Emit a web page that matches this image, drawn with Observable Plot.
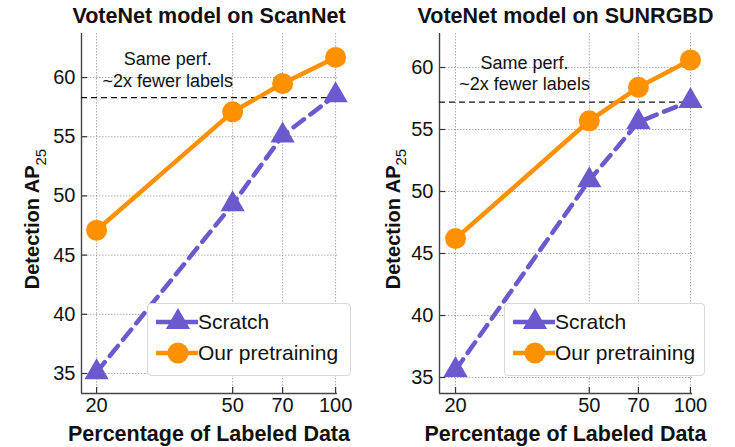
<!DOCTYPE html>
<html>
<head>
<meta charset="utf-8">
<script src="https://cdn.jsdelivr.net/npm/d3@7"></script>
<script src="https://cdn.jsdelivr.net/npm/@observablehq/plot@0.6"></script>
<style>
  html, body { margin: 0; padding: 0; background: #fff; }
  body { font-family: "Liberation Sans", Arial, Helvetica, sans-serif; }
  #root { position: relative; width: 735px; height: 447px; overflow: hidden; }
  .panel { position: absolute; top: 0; height: 447px; }
  .title { position: absolute; top: 1px; height: 30px; line-height: 30px; font-weight: bold; font-size: 21.5px; text-align: center; white-space: nowrap; color: #111; }
  .panel svg.plot { position: absolute; top: 30px; left: 0; }
  .legend { position: absolute; background: #fff; border: 1px solid #d8d8d8; border-radius: 4px; box-sizing: border-box; }
  .legend .row { position: absolute; left: 0; height: 30px; display: flex; align-items: center; }
  .legend .row span { font-size: 21px; color: #111; margin-left: 0px; }
</style>
</head>
<body>
<div id="root"></div>
<script>
// ---- data ----
const labeledPct = [20, 50, 70, 100];
const xTickValues = [20, 50, 70, 100];
const yTickValues = [35, 40, 45, 50, 55, 60];
const seriesNames = ["Scratch", "Our pretraining"];
const titles = ["VoteNet model on ScanNet", "VoteNet model on SUNRGBD"];
const scannetScratch = [35.1, 49.3, 55.1, 58.5];
const scannetOurs = [47.1, 57.1, 59.5, 61.7];
const sunrgbdScratch = [35.6, 50.9, 55.6, 57.3];
const sunrgbdOurs = [46.2, 55.7, 58.4, 60.6];
const samePerfLevel = [58.3, 57.2];
const annotationLines = ["Same perf.", "~2x fewer labels"];
const annotationPos = [{x: 32.3, y: 60.7}, {x: 32.1, y: 59.6}];

// ---- styles ----
const PURPLE = "#6A5ACD";
const ORANGE = "#FF9100";
const FONT = "'Liberation Sans', Arial, Helvetica, sans-serif";

const panels = [
  {left: 0, width: 367, marginLeft: 81, marginRight: 30, xDomain: [18.07, 101.3], yDomain: [33.31, 63.72],
   scratch: scannetScratch, ours: scannetOurs, same: samePerfLevel[0], ann: annotationPos[0], title: titles[0],
   ylabelX: 32, legend: {left: 147, top: 303, width: 204, height: 73, lineX: 8, markX: 30}},
  {left: 367, width: 368, marginLeft: 72, marginRight: 43, xDomain: [17.92, 101.4], yDomain: [33.71, 62.74],
   scratch: sunrgbdScratch, ours: sunrgbdOurs, same: samePerfLevel[1], ann: annotationPos[1], title: titles[1],
   ylabelX: 25.5, legend: {left: 137, top: 303, width: 201, height: 73, lineX: 8, markX: 30}}
];

const root = document.getElementById("root");
const H = 417, MT = 3, MB = 54;

panels.forEach((p, i) => {
  const div = document.createElement("div");
  div.className = "panel";
  div.style.left = p.left + "px";
  div.style.width = p.width + "px";
  root.appendChild(div);

  const scratchData = labeledPct.map((x, k) => ({x, y: p.scratch[k]}));
  const oursData = labeledPct.map((x, k) => ({x, y: p.ours[k]}));
  const frameW = p.width - p.marginLeft - p.marginRight;
  const frameH = H - MT - MB;

  const plot = Plot.plot({
    width: p.width,
    height: H,
    marginLeft: p.marginLeft,
    marginRight: p.marginRight,
    marginTop: MT,
    marginBottom: MB,
    style: {fontFamily: FONT, background: "transparent", color: "#111", overflow: "visible"},
    x: {type: "log", domain: p.xDomain, axis: null},
    y: {domain: p.yDomain, axis: null},
    marks: [
      Plot.gridX(xTickValues, {stroke: "#888", strokeOpacity: 0.7, strokeDasharray: "1.5,1.5"}),
      Plot.gridY(yTickValues, {stroke: "#888", strokeOpacity: 0.7, strokeDasharray: "1.5,1.5"}),
      // inward tick marks
      Plot.ruleX(xTickValues, {stroke: "#333", strokeWidth: 1.2, insetTop: frameH - 6}),
      Plot.ruleY(yTickValues, {stroke: "#333", strokeWidth: 1.2, insetRight: frameW - 6}),
      // axis lines
      Plot.ruleX([p.xDomain[0]], {stroke: "#444", strokeWidth: 1.4}),
      Plot.ruleY([p.yDomain[0]], {stroke: "#444", strokeWidth: 1.4}),
      // tick labels
      Plot.text(xTickValues, {x: d => d, text: d => String(d), frameAnchor: "bottom", dy: 18, fontSize: 20, fill: "#111"}),
      Plot.text(yTickValues, {y: d => d, text: d => String(d), frameAnchor: "left", textAnchor: "end", dx: -6, fontSize: 20, fill: "#111"}),
      // same performance reference
      Plot.ruleY([p.same], {stroke: "#111", strokeWidth: 1.3, strokeDasharray: "6,4"}),
      Plot.text([annotationLines.join("\n")], {x: () => p.ann.x, y: () => p.ann.y, fontSize: 18, fill: "#111", lineHeight: 1.22, textAnchor: "middle"}),
      // series
      Plot.line(scratchData, {x: "x", y: "y", stroke: PURPLE, strokeWidth: 4.5, strokeDasharray: "13,8"}),
      Plot.dot(scratchData, {x: "x", y: "y", symbol: "triangle", r: 9, fill: PURPLE}),
      Plot.line(oursData, {x: "x", y: "y", stroke: ORANGE, strokeWidth: 4.5}),
      Plot.dot(oursData, {x: "x", y: "y", r: 10.5, fill: ORANGE})
    ]
  });
  plot.classList.add("plot");
  div.appendChild(plot);

  const svg = d3.select(plot);
  const cx = (p.marginLeft + (p.width - p.marginRight)) / 2;
  // y label with subscript
  const yl = svg.append("text")
    .attr("transform", `translate(${p.ylabelX},${(MT + H - MB) / 2 + 6}) rotate(-90)`)
    .attr("text-anchor", "middle")
    .attr("dy", "0.35em")
    .attr("font-family", FONT)
    .attr("font-weight", "bold")
    .attr("font-size", 20)
    .attr("fill", "#111");
  yl.append("tspan").text("Detection AP");
  yl.append("tspan").attr("font-size", 15).attr("font-weight", "normal").attr("dy", "0.45em").text("25");
  // x label
  svg.append("text")
    .attr("x", cx).attr("y", 403)
    .attr("text-anchor", "middle")
    .attr("dy", "0.35em")
    .attr("font-family", FONT)
    .attr("font-weight", "bold")
    .attr("font-size", 21.5)
    .attr("fill", "#111")
    .text("Percentage of Labeled Data");

  // title
  const t = document.createElement("div");
  t.className = "title";
  t.style.left = "0px";
  t.style.width = (2 * cx) + "px";
  t.textContent = p.title;
  div.appendChild(t);

  // legend
  const lg = document.createElement("div");
  lg.className = "legend";
  Object.assign(lg.style, {left: p.legend.left + "px", top: p.legend.top + "px", width: p.legend.width + "px", height: p.legend.height + "px"});
  const mk = (name, k) => {
    const row = document.createElement("div");
    row.className = "row";
    row.style.top = (k === 0 ? 3 : 34) + "px";
    const ns = "http://www.w3.org/2000/svg";
    const s = document.createElementNS(ns, "svg");
    s.setAttribute("width", 50); s.setAttribute("height", 30);
    const ln = document.createElementNS(ns, "line");
    ln.setAttribute("x1", p.legend.lineX); ln.setAttribute("x2", p.legend.lineX + 42);
    ln.setAttribute("y1", 15); ln.setAttribute("y2", 15);
    ln.setAttribute("stroke", k === 0 ? PURPLE : ORANGE); ln.setAttribute("stroke-width", 4.5);
    s.appendChild(ln);
    const m = document.createElementNS(ns, "path");
    m.setAttribute("d", d3.symbol(k === 0 ? d3.symbolTriangle : d3.symbolCircle, Math.PI * (k === 0 ? 81 : 110))());
    m.setAttribute("transform", `translate(${p.legend.markX},15)`);
    m.setAttribute("fill", k === 0 ? PURPLE : ORANGE);
    s.appendChild(m);
    row.appendChild(s);
    const sp = document.createElement("span");
    sp.textContent = name;
    row.appendChild(sp);
    lg.appendChild(row);
  };
  seriesNames.forEach(mk);
  div.appendChild(lg);
});
</script>
</body>
</html>
